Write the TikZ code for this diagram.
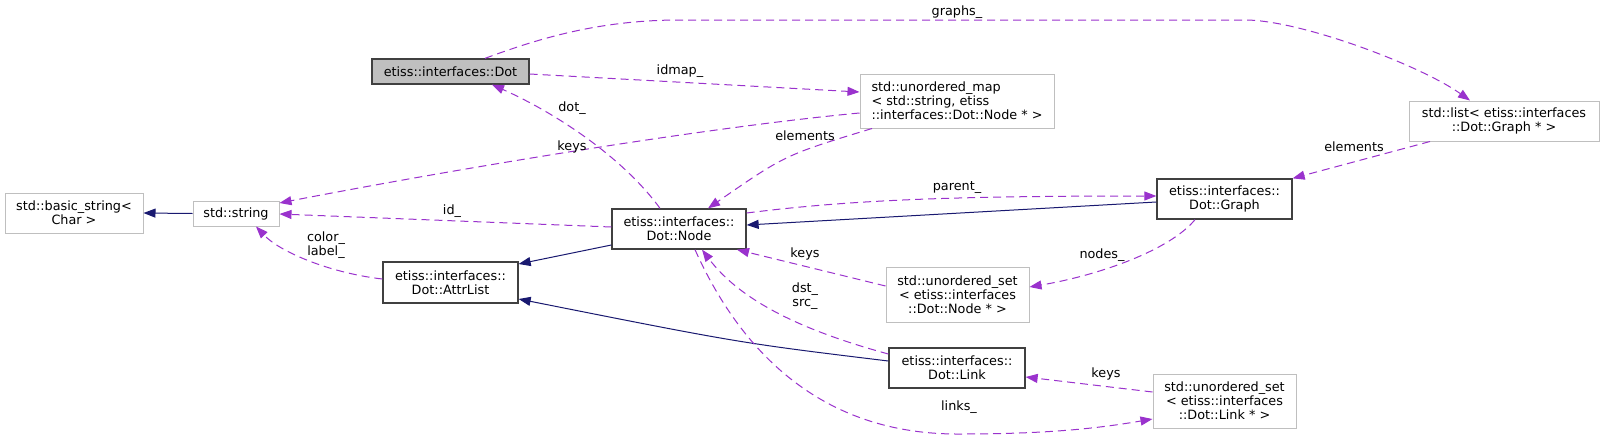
\documentclass[tikz,border=0pt]{standalone}
\usepackage{fontspec}
\setmainfont{DejaVu Sans}
\usetikzlibrary{arrows.meta}
\definecolor{purp}{HTML}{9A32CD}
\definecolor{mblue}{HTML}{191970}
\definecolor{lgray}{HTML}{BFBFBF}
\definecolor{dgray}{HTML}{404040}
\begin{document}
\begin{tikzpicture}[x=1pt,y=-1pt,
  font=\fontsize{12.8}{14}\selectfont,
  box/.style={draw, inner sep=0pt, align=center, line width=1pt},
  gbox/.style={box, draw=lgray},
  bbox/.style={box, draw=dgray, line width=1.3pt},
  mem/.style={purp, dash pattern=on 8pt off 5pt, line width=1pt, -{Triangle[length=12pt,width=9pt]}},
  inh/.style={mblue, line width=1pt, -{Triangle[length=12pt,width=9pt]}},
  lbl/.style={inner sep=0pt, align=center, text=black}]
\fill[white] (0,0) rectangle (1604,442);
\useasboundingbox (0,0) rectangle (1604,442);

% nodes
\node[gbox, minimum width=138pt, minimum height=40pt] (basic) at (74,213) {std::basic\_string<\\Char >};
\node[gbox, minimum width=86pt, minimum height=25pt] (str) at (236,213.5) {std::string};
\node[bbox, minimum width=135pt, minimum height=41pt] (attr) at (450.5,282.5) {etiss::interfaces::\\Dot::AttrList};
\node[bbox, fill=lgray, minimum width=157pt, minimum height=25pt] (dot) at (450.5,71.5) {etiss::interfaces::Dot};
\node[bbox, minimum width=134pt, minimum height=40pt] (nd) at (679,229) {etiss::interfaces::\\Dot::Node};
\node[gbox, align=left, minimum width=194pt, minimum height=54pt] (map) at (957,101) {std::unordered\_map\\< std::string, etiss\\::interfaces::Dot::Node * >};
\node[gbox, minimum width=190pt, minimum height=40pt] (lst) at (1504,121) {std::list< etiss::interfaces\\::Dot::Graph * >};
\node[bbox, minimum width=135pt, minimum height=40pt] (graph) at (1224.5,199) {etiss::interfaces::\\Dot::Graph};
\node[gbox, minimum width=143pt, minimum height=55pt] (usn) at (957.5,294.5) {std::unordered\_set\\< etiss::interfaces\\::Dot::Node * >};
\node[bbox, minimum width=136pt, minimum height=40pt] (link) at (957,368) {etiss::interfaces::\\Dot::Link};
\node[gbox, minimum width=143pt, minimum height=54pt] (usl) at (1224.5,401) {std::unordered\_set\\< etiss::interfaces\\::Dot::Link * >};

% inheritance edges
\draw[inh] (str.west) -- (basic.east);
\draw[inh] (nd.west |- 0,245) -- (attr.east |- 0,264);
\draw[inh] (link.west |- 0,361) .. controls (740,343) .. (attr.east |- 0,299);
\draw[inh] (graph.west |- 0,202) -- (nd.east |- 0,225);

% member edges
\draw[mem] (attr.west |- 0,279) .. controls (330,273) and (280,252) .. (str.south -| 256,0);
\draw[mem] (map.west |- 0,113) .. controls (700,128) and (450,170) .. (str.east |- 0,203);
\draw[mem] (nd.west |- 0,227) -- (str.east |- 0,214);
\draw[mem] (nd.north -| 660,0) .. controls (625,160) and (560,115) .. (dot.south -| 492,0);
\draw[mem] (dot.east |- 0,74) -- (map.west |- 0,92);
\draw[mem] (dot.north -| 485,0) .. controls (540,38) and (600,20) .. (680,20) -- (1245,20) .. controls (1300,20) and (1420,65) .. (lst.north -| 1470,0);
\draw[mem] (map.south -| 872,0) .. controls (785,155) .. (nd.north -| 708,0);
\draw[mem] (nd.east |- 0,213) .. controls (850,200) and (950,196) .. (graph.west |- 0,196);
\draw[mem] (lst.south -| 1430,0) -- (graph.north east);
\draw[mem] (graph.south -| 1195,0) .. controls (1170,250) and (1100,275) .. (usn.east |- 0,287);
\draw[mem] (usn.west |- 0,286) -- (nd.south -| 737,0);
\draw[mem] (link.west |- 0,354) .. controls (800,330) and (740,300) .. (nd.south -| 702,0);
\draw[mem] (nd.south -| 695,0) .. controls (740,350) and (820,435) .. (960,434) .. controls (1050,434) and (1100,428) .. (usl.west |- 0,419);
\draw[mem] (usl.west |- 0,392) -- (link.east |- 0,377);

% labels
\node[lbl] (lgraphs) at (957,12) {graphs\_};
\node[lbl] (lidmap) at (680,71) {idmap\_};
\node[lbl] (ldot) at (572,108) {dot\_};
\node[lbl] (lkeys1) at (572,147) {keys};
\node[lbl] (lelem1) at (805,136) {elements};
\node[lbl] (lid) at (452,211) {id\_};
\node[lbl] (lcolor) at (326,245) {color\_\\label\_};
\node[lbl] (lparent) at (957,188) {parent\_};
\node[lbl] (lnodes) at (1102,255) {nodes\_};
\node[lbl] (lkeys2) at (805,254) {keys};
\node[lbl] (ldst) at (805,296) {dst\_\\src\_};
\node[lbl] (lkeys3) at (1106,374) {keys};
\node[lbl] (llinks) at (959,407) {links\_};
\node[lbl] (lelem2) at (1354,147) {elements};
\end{tikzpicture}
\end{document}
